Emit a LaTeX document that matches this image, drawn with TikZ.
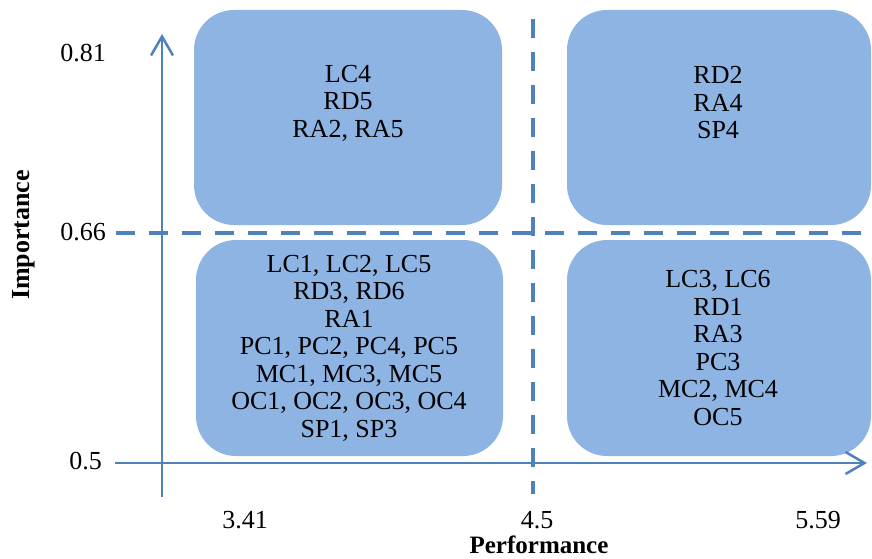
\documentclass[tikz,border=0pt]{standalone}
\usepackage{fontspec}
\setmainfont{Liberation Serif}
\usetikzlibrary{arrows.meta}
\definecolor{axisblue}{HTML}{4F81BD}
\definecolor{boxblue}{HTML}{8EB4E3}
\begin{document}
\begin{tikzpicture}[x=1pt,y=-1pt,
  quad/.style={fill=boxblue,draw=none,rounded corners=40pt},
  boxtext/.style={align=center,font=\fontsize{26}{27.5}\selectfont,inner sep=0pt},
  tick/.style={font=\fontsize{26}{28}\selectfont,inner sep=0pt},
  axis/.style={draw=axisblue,line width=2.5pt,-{Straight Barb[length=19pt,width=22pt,line width=2.5pt]}},
  divider/.style={draw=axisblue,line width=4.5pt,dash pattern=on 19pt off 14pt}]
\useasboundingbox (0,0) rectangle (872,559);
% boxes
\path[quad] (194,10) rectangle (502,225);
\path[quad] (567,10) rectangle (871,225);
\path[quad] (196,240) rectangle (503,456);
\path[quad] (567,240) rectangle (871,456);
% box texts
\node[boxtext] (tl) at (348,103) {LC4\\RD5\\RA2, RA5};
\node[boxtext] (tr) at (718,103) {RD2\\RA4\\SP4};
\node[boxtext] (bl) at (349,348) {LC1, LC2, LC5\\RD3, RD6\\RA1\\PC1, PC2, PC4, PC5\\MC1, MC3, MC5\\OC1, OC2, OC3, OC4\\SP1, SP3};
\node[boxtext] (br) at (718,348) {LC3, LC6\\RD1\\RA3\\PC3\\MC2, MC4\\OC5};
% dividers
\coordinate (hd1) at (116,233);
\coordinate (hd2) at (872,233);
\coordinate (vd1) at (533,19);
\coordinate (vd2) at (533,494);
\draw[divider] (hd1) -- (hd2);
\draw[divider] (vd1) -- (vd2);
% axes
\coordinate (yb) at (162,497);
\coordinate (yt) at (162,34);
\coordinate (xl) at (115,463);
\coordinate (xr) at (867,463);
\draw[axis] (yb) -- (yt);
\draw[axis] (xl) -- (xr);
% tick labels
\node[tick,anchor=east] (y81) at (106,53) {0.81};
\node[tick,anchor=east] (y66) at (106,232) {0.66};
\node[tick,anchor=east] (y50) at (102,461) {0.5};
\node[tick] (x341) at (245,520) {3.41};
\node[tick] (x45) at (537,520) {4.5};
\node[tick] (x559) at (818,520) {5.59};
\node[tick,font=\fontsize{25}{26}\selectfont\bfseries] (xlab) at (539,545) {Performance};
\node[tick,font=\fontsize{26}{28}\selectfont\bfseries,rotate=90] (ylab) at (24,235) {Importance};
\end{tikzpicture}
\end{document}
